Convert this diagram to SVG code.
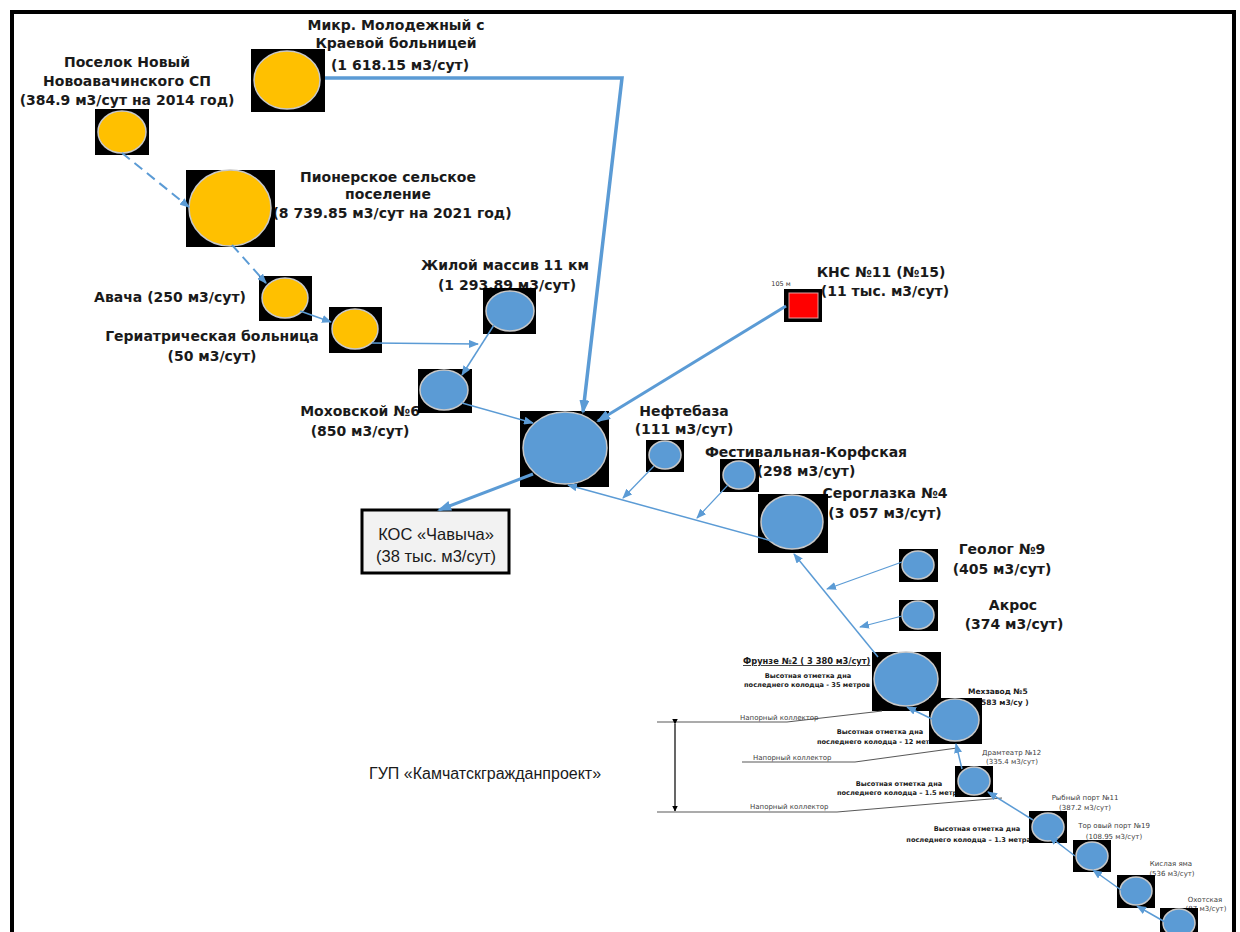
<svg xmlns="http://www.w3.org/2000/svg" width="1240" height="932" viewBox="0 0 1240 932">
<defs>
<style>
.bx{fill:#000}
.y{fill:#FFC000;stroke:#C8C8C8;stroke-width:1.5}
.b{fill:#5B9BD5;stroke:#C8C8C8;stroke-width:1.5}
.lb{font-family:"DejaVu Sans",Verdana,sans-serif;font-weight:bold;font-size:14px;fill:#1a1a1a;text-anchor:middle}
.sb{font-family:"DejaVu Sans",Verdana,sans-serif;font-weight:bold;font-size:6.6px;fill:#1a1a1a}
.sr{font-family:"DejaVu Sans",Verdana,sans-serif;font-size:7px;fill:#404040}
.c{fill:none;stroke:#5B9BD5;stroke-width:1.5}
.ct{fill:none;stroke:#5B9BD5;stroke-width:3.5}
.d{stroke-dasharray:10 6}
.k{fill:none;stroke:#595959;stroke-width:1.2}
.m{font-family:"Liberation Sans",Arial,sans-serif;font-size:16.5px;fill:#1a1a1a;text-anchor:middle}
</style>
<marker id="a" markerUnits="userSpaceOnUse" markerWidth="10" markerHeight="8" refX="9" refY="4" orient="auto"><path d="M0,0 L10,4 L0,8 z" fill="#5B9BD5"/></marker>
<marker id="A" markerUnits="userSpaceOnUse" markerWidth="14" markerHeight="10" refX="12" refY="5" orient="auto"><path d="M0,0 L14,5 L0,10 z" fill="#5B9BD5"/></marker>
<marker id="k" markerUnits="userSpaceOnUse" markerWidth="6" markerHeight="8" refX="5.5" refY="3" orient="auto"><path d="M0,0 L6,3 L0,6 z" fill="#000"/></marker>
</defs>
<rect width="1240" height="932" fill="#fff"/>
<path d="M12,940 V12 H1234 V940" fill="none" stroke="#000" stroke-width="4"/>

<g id="n-molodezhny">
<text class="lb" x="396" y="30">Микр. Молодежный с</text>
<text class="lb" x="396" y="48">Краевой больницей</text>
<text class="lb" x="400" y="70">(1 618.15 м3/сут)</text>
<rect class="bx" x="251" y="49" width="74" height="63"/>
<ellipse class="y" cx="287" cy="80" rx="33" ry="29"/>
</g>
<g id="n-poselok">
<text class="lb" x="127" y="67">Поселок Новый</text>
<text class="lb" x="127" y="86">Новоавачинского СП</text>
<text class="lb" x="127" y="105">(384.9 м3/сут на 2014 год)</text>
<rect class="bx" x="95" y="109" width="54" height="46"/>
<ellipse class="y" cx="122" cy="132" rx="24" ry="21"/>
</g>
<g id="n-pioner">
<text class="lb" x="388" y="182">Пионерское сельское</text>
<text class="lb" x="388" y="199">поселение</text>
<text class="lb" x="392" y="218">(8 739.85 м3/сут на 2021 год)</text>
<rect class="bx" x="186" y="170" width="89" height="77"/>
<ellipse class="y" cx="230" cy="208" rx="41" ry="38"/>
</g>
<g id="n-avacha">
<text class="lb" x="170" y="302">Авача (250 м3/сут)</text>
<rect class="bx" x="259" y="276" width="53" height="45"/>
<ellipse class="y" cx="285" cy="298" rx="23" ry="20"/>
</g>
<g id="n-geriatr">
<text class="lb" x="212" y="341">Гериатрическая больница</text>
<text class="lb" x="212" y="361">(50 м3/сут)</text>
<rect class="bx" x="329" y="307" width="53" height="46"/>
<ellipse class="y" cx="355" cy="329" rx="23" ry="20"/>
</g>
<g id="n-zhiloy">
<text class="lb" x="505" y="270">Жилой массив 11 км</text>
<text class="lb" x="507" y="290">(1 293.89 м3/сут)</text>
<rect class="bx" x="483" y="288" width="53" height="46"/>
<ellipse class="b" cx="510" cy="311" rx="24" ry="20"/>
</g>
<g id="n-mokhovskoy">
<text class="lb" x="360" y="416">Моховской №6</text>
<text class="lb" x="360" y="436">(850 м3/сут)</text>
<rect class="bx" x="418" y="369" width="54" height="44"/>
<ellipse class="b" cx="444" cy="390" rx="24" ry="20"/>
</g>
<g id="n-central">
<rect class="bx" x="520" y="411" width="89" height="76"/>
<ellipse class="b" cx="565" cy="448" rx="42" ry="36"/>
</g>
<g id="n-kos">
<rect x="362" y="510" width="147" height="63" fill="#F2F2F2" stroke="#000" stroke-width="3"/>
<text class="m" x="436" y="540">КОС «Чавыча»</text>
<text class="m" x="436" y="562">(38 тыс. м3/сут)</text>
</g>
<g id="n-kns">
<text class="lb" x="881" y="277">КНС №11 (№15)</text>
<text class="lb" x="885" y="296">(11 тыс. м3/сут)</text>
<text class="sr" x="781" y="286" text-anchor="middle" style="font-size:6.5px;fill:#333">105 м</text>
<rect class="bx" x="784" y="289" width="38" height="33"/>
<rect x="789" y="293" width="29" height="25" fill="#FF0000" stroke="#E8A0A0" stroke-width="1"/>
</g>
<g id="n-neftebaza">
<text class="lb" x="684" y="416">Нефтебаза</text>
<text class="lb" x="684" y="434">(111 м3/сут)</text>
<rect class="bx" x="646" y="440" width="38" height="32"/>
<ellipse class="b" cx="665" cy="455" rx="16" ry="14"/>
</g>
<g id="n-festival">
<text class="lb" x="806" y="457">Фестивальная-Корфская</text>
<text class="lb" x="806" y="476">(298 м3/сут)</text>
<rect class="bx" x="720" y="459" width="39" height="33"/>
<ellipse class="b" cx="739" cy="475" rx="16" ry="14"/>
</g>
<g id="n-seroglazka">
<text class="lb" x="885" y="498">Сероглазка №4</text>
<text class="lb" x="885" y="518">(3 057 м3/сут)</text>
<rect class="bx" x="758" y="494" width="70" height="59"/>
<ellipse class="b" cx="792" cy="522" rx="31" ry="27"/>
</g>
<g id="n-geolog">
<text class="lb" x="1002" y="554">Геолог №9</text>
<text class="lb" x="1002" y="574">(405 м3/сут)</text>
<rect class="bx" x="899" y="549" width="39" height="33"/>
<ellipse class="b" cx="918" cy="565" rx="16" ry="14"/>
</g>
<g id="n-akros">
<text class="lb" x="1013" y="610">Акрос</text>
<text class="lb" x="1014" y="629">(374 м3/сут)</text>
<rect class="bx" x="899" y="600" width="39" height="31"/>
<ellipse class="b" cx="918" cy="615" rx="16" ry="14"/>
</g>
<g id="n-frunze">
<text class="sb" x="743" y="664" style="font-size:8.3px;text-decoration:underline">Фрунзе №2 ( 3 380 м3/сут)</text>
<text class="sb" x="808" y="678" text-anchor="middle">Высотная отметка дна</text>
<text class="sb" x="807" y="687" text-anchor="middle">последнего колодца - 35 метров</text>
<rect class="bx" x="872" y="652" width="69" height="59"/>
<ellipse class="b" cx="906" cy="679" rx="32" ry="27"/>
</g>
<g id="n-mekhzavod">
<text class="sb" x="968" y="694" style="font-size:7.5px">Мехзавод №5</text>
<text class="sb" x="981" y="705" style="font-size:7.5px">583 м3/су )</text>
<text class="sb" x="880" y="734" text-anchor="middle">Высотная отметка дна</text>
<text class="sb" x="817" y="744">последнего колодца - 12 мет</text>
<rect class="bx" x="929" y="698" width="53" height="46"/>
<ellipse class="b" cx="955" cy="720" rx="24" ry="21"/>
</g>
<g id="n-dramteatr">
<text class="sr" x="982" y="755">Драмтеатр №12</text>
<text class="sr" x="986" y="764">(335.4 м3/сут)</text>
<text class="sb" x="899" y="786" text-anchor="middle">Высотная отметка дна</text>
<text class="sb" x="837" y="795">последнего колодца – 1.5 метр</text>
<rect class="bx" x="955" y="766" width="38" height="31"/>
<ellipse class="b" cx="974" cy="781" rx="16" ry="14"/>
</g>
<g id="n-rybny">
<text class="sb" x="977" y="831" text-anchor="middle">Высотная отметка дна</text>
<text class="sb" x="1031" y="842" text-anchor="end">последнего колодца – 1.3 метра</text>
<text class="sr" x="1085" y="800" text-anchor="middle">Рыбный порт №11</text>
<text class="sr" x="1085" y="810" text-anchor="middle">(387.2 м3/сут)</text>
<rect class="bx" x="1029" y="811" width="38" height="32"/>
<ellipse class="b" cx="1048" cy="827" rx="16" ry="14"/>
</g>
<g id="n-torgovy">
<text class="sr" x="1114" y="828" text-anchor="middle">Тор овый порт №19</text>
<text class="sr" x="1114" y="839" text-anchor="middle">(108.95 м3/сут)</text>
<rect class="bx" x="1073" y="840" width="38" height="32"/>
<ellipse class="b" cx="1092" cy="856" rx="16" ry="14"/>
</g>
<g id="n-kislaya">
<text class="sr" x="1171" y="866" text-anchor="middle">Кислая яма</text>
<text class="sr" x="1172" y="876" text-anchor="middle">(536 м3/сут)</text>
<rect class="bx" x="1117" y="875" width="38" height="33"/>
<ellipse class="b" cx="1136" cy="891" rx="16" ry="14"/>
</g>
<g id="n-okhotskaya">
<text class="sr" x="1205" y="902" text-anchor="middle">Охотская</text>
<text class="sr" x="1206" y="911" text-anchor="middle">(87 м3/сут)</text>
<rect class="bx" x="1160" y="908" width="38" height="30"/>
<ellipse class="b" cx="1179" cy="923" rx="16" ry="14"/>
</g>

<g id="annotations">
<path class="k" d="M657,722 H787 L882,711"/>
<path class="k" d="M742,762 H855 L957,748"/>
<path class="k" d="M657,812 H837 L1002,798"/>
<line x1="675" y1="724" x2="675" y2="811" stroke="#000" stroke-width="1.2" marker-start="url(#k)" marker-end="url(#k)"/>
<text class="sr" x="740" y="720">Напорный коллектор</text>
<text class="sr" x="753" y="760">Напорный коллектор</text>
<text class="sr" x="750" y="809">Напорный коллектор</text>
<text x="369" y="779" font-family="Liberation Sans, Arial, sans-serif" font-size="16" fill="#1a1a1a">ГУП «Камчатскгражданпроект»</text>
</g>

<g id="connectors">
<polyline class="ct" points="325,78 622,78 583,412" marker-end="url(#A)"/>
<line class="ct" x1="786" y1="306" x2="598" y2="421" style="stroke-width:3" marker-end="url(#A)"/>
<line class="ct" x1="533" y1="474" x2="439" y2="510" style="stroke-width:3" marker-end="url(#A)"/>
<line class="c d" x1="122" y1="153" x2="189" y2="207" style="stroke-width:2" marker-end="url(#a)"/>
<line class="c d" x1="232" y1="245" x2="266" y2="283" style="stroke-width:2" marker-end="url(#a)"/>
<line class="c" x1="300" y1="311" x2="331" y2="322" marker-end="url(#a)"/>
<line class="c" x1="372" y1="343" x2="478" y2="344" marker-end="url(#a)"/>
<line class="c" x1="494" y1="325" x2="462" y2="375" marker-end="url(#a)"/>
<line class="c" x1="462" y1="403" x2="533" y2="423" marker-end="url(#a)"/>
<line class="c" x1="772" y1="541" x2="568" y2="485" marker-end="url(#a)"/>
<line class="c" x1="654" y1="466" x2="623" y2="498" style="stroke-width:1.2" marker-end="url(#a)"/>
<line class="c" x1="728" y1="485" x2="697" y2="518" style="stroke-width:1.2" marker-end="url(#a)"/>
<line class="c" x1="878" y1="657" x2="794" y2="554" marker-end="url(#a)"/>
<line class="c" x1="902" y1="562" x2="827" y2="589" style="stroke-width:1.2" marker-end="url(#a)"/>
<line class="c" x1="902" y1="616" x2="860" y2="627" style="stroke-width:1.2" marker-end="url(#a)"/>
<line class="c" x1="932" y1="719" x2="907" y2="707" marker-end="url(#a)"/>
<line class="c" x1="962" y1="769" x2="956" y2="744" marker-end="url(#a)"/>
<line class="c" x1="1033" y1="820" x2="988" y2="792" marker-end="url(#a)"/>
<line class="c" x1="1075" y1="856" x2="1049" y2="836" marker-end="url(#a)"/>
<line class="c" x1="1121" y1="890" x2="1093" y2="870" marker-end="url(#a)"/>
<line class="c" x1="1165" y1="922" x2="1137" y2="906" marker-end="url(#a)"/>
</g>
</svg>
